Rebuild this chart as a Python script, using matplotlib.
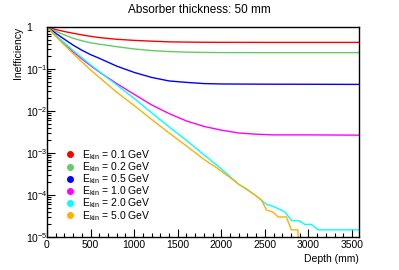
import numpy as np
import matplotlib
matplotlib.use("Agg")
import matplotlib.pyplot as plt
from matplotlib.lines import Line2D
from matplotlib.ticker import FixedLocator, FuncFormatter, MultipleLocator

matplotlib.rcParams["font.family"] = ["Liberation Sans", "DejaVu Sans"]
matplotlib.rcParams["mathtext.fontset"] = "custom"
matplotlib.rcParams["mathtext.rm"] = "Liberation Sans"
matplotlib.rcParams["mathtext.it"] = "Liberation Sans:italic"
matplotlib.rcParams["mathtext.bf"] = "Liberation Sans:bold"

# depth grids (mm) and inefficiency
depth_low = [0, 100, 200, 300, 400, 500, 600, 800, 1000, 1200, 1400, 1600,
             1800, 2000, 2500, 3000, 3580]
ineff_01 = [1, 0.87, 0.78, 0.71, 0.65, 0.60, 0.56, 0.51, 0.48, 0.46, 0.443,
            0.437, 0.433, 0.431, 0.43, 0.43, 0.43]
ineff_02 = [1, 0.79, 0.65, 0.54, 0.47, 0.42, 0.39, 0.34, 0.30, 0.275, 0.26,
            0.252, 0.248, 0.246, 0.245, 0.245, 0.245]
ineff_05 = [1, 0.71, 0.51, 0.37, 0.28, 0.22, 0.18, 0.117, 0.083, 0.063,
            0.052, 0.048, 0.045, 0.044, 0.0435, 0.0433, 0.043]

depth_10 = [0, 100, 200, 300, 400, 500, 600, 800, 1000, 1200, 1400, 1600,
            1800, 2000, 2200, 2400, 2600, 3000, 3580]
ineff_10 = [1, 0.63, 0.40, 0.257, 0.174, 0.12, 0.085, 0.045, 0.025, 0.014,
            0.0087, 0.0058, 0.0043, 0.0035, 0.0030, 0.0028, 0.0027, 0.0027,
            0.00266]

depth_20 = [0, 100, 200, 300, 400, 500, 600, 800, 1000, 1200, 1400, 1600,
            1800, 2000, 2200, 2300, 2400, 2518, 2594, 2727, 2804, 2900, 2957,
            3033, 3110, 3580]
ineff_20 = [1, 0.63, 0.417, 0.275, 0.186, 0.126, 0.087, 0.0417, 0.020,
            0.0091, 0.0042, 0.0020, 9.1e-4, 4.2e-4, 1.8e-4, 1.35e-4, 9.5e-5,
            6.0e-5, 5.4e-5, 4.0e-5, 2.5e-5, 2.4e-5, 2.0e-5, 2.0e-5, 1.48e-5,
            1.48e-5]

depth_50 = [0, 100, 200, 300, 400, 500, 600, 800, 1000, 1200, 1400, 1600,
            1800, 1950, 2100, 2200, 2300, 2400, 2460, 2518, 2594, 2651, 2747,
            2804, 2880, 2900]
ineff_50 = [1, 0.60, 0.37, 0.234, 0.148, 0.095, 0.063, 0.028, 0.0135,
            0.0063, 0.0030, 0.00148, 7.1e-4, 4.4e-4, 2.6e-4, 1.8e-4, 1.32e-4,
            9.5e-5, 7.6e-5, 4.4e-5, 3.9e-5, 3.0e-5, 3.0e-5, 1.48e-5, 1.48e-5,
            1e-7]

energies = ["0.1", "0.2", "0.5", "1.0", "2.0", "5.0"]
colors = ["#ff0000", "#62cd62", "#0000ff", "#ff00ff", "#00ffff", "#ffb000"]

series = [(depth_low, ineff_01), (depth_low, ineff_02), (depth_low, ineff_05),
          (depth_10, ineff_10), (depth_20, ineff_20), (depth_50, ineff_50)]

fig = plt.figure(figsize=(3.99, 2.70), dpi=100)
ax = fig.add_axes([47 / 399, 33 / 270, 312 / 399, 210 / 270])

for (d, v), c in zip(series, colors):
    ax.plot(d, v, color=c, lw=1.0, solid_joinstyle="miter")

ax.set_yscale("log")
ax.set_xlim(0, 3580)
ax.set_ylim(1e-5, 1)

ax.xaxis.set_major_locator(MultipleLocator(500))
ax.xaxis.set_minor_locator(MultipleLocator(100))
ax.yaxis.set_major_locator(FixedLocator([1e-5, 1e-4, 1e-3, 1e-2, 1e-1, 1]))
minor = [m * 10.0 ** e for e in range(-5, 0) for m in range(2, 10)]
ax.yaxis.set_minor_locator(FixedLocator(minor))


def ylab(v, pos):
    e = int(round(np.log10(v)))
    if e == 0:
        return "1"
    return r"$10^{%d}$" % e


ax.yaxis.set_major_formatter(FuncFormatter(ylab))
ax.yaxis.set_minor_formatter(FuncFormatter(lambda v, p: ""))

ax.tick_params(which="both", direction="in", top=False, right=False,
               labelsize=7.5, width=0.8)
ax.tick_params(which="major", length=6, pad=2)
ax.tick_params(which="minor", length=3)
ax.tick_params(axis="y", which="major", pad=15)
for lbl in ax.get_yticklabels():
    lbl.set_horizontalalignment("left")
for s in ax.spines.values():
    s.set_linewidth(1.0)

ax.set_xlabel("Depth (mm)", fontsize=7.5, loc="right", labelpad=3)
ax.set_ylabel("Inefficiency", fontsize=7.5, loc="top", labelpad=2)
fig.text(0.5, 0.962, "Absorber thickness: 50 mm", ha="center", va="center",
         fontsize=8.5)

handles = [Line2D([], [], ls="none", marker="o", ms=4, color=c) for c in colors]
labels = [r"E$_{\mathrm{kin}}$ = %s GeV" % e for e in energies]
ax.legend(handles, labels, loc="upper left", bbox_to_anchor=(0.035, 0.458),
          frameon=False, fontsize=7.5, handlelength=1.0, handletextpad=0.6,
          labelspacing=-0.16, borderpad=0.2)

fig.savefig("out.png", dpi=100)
